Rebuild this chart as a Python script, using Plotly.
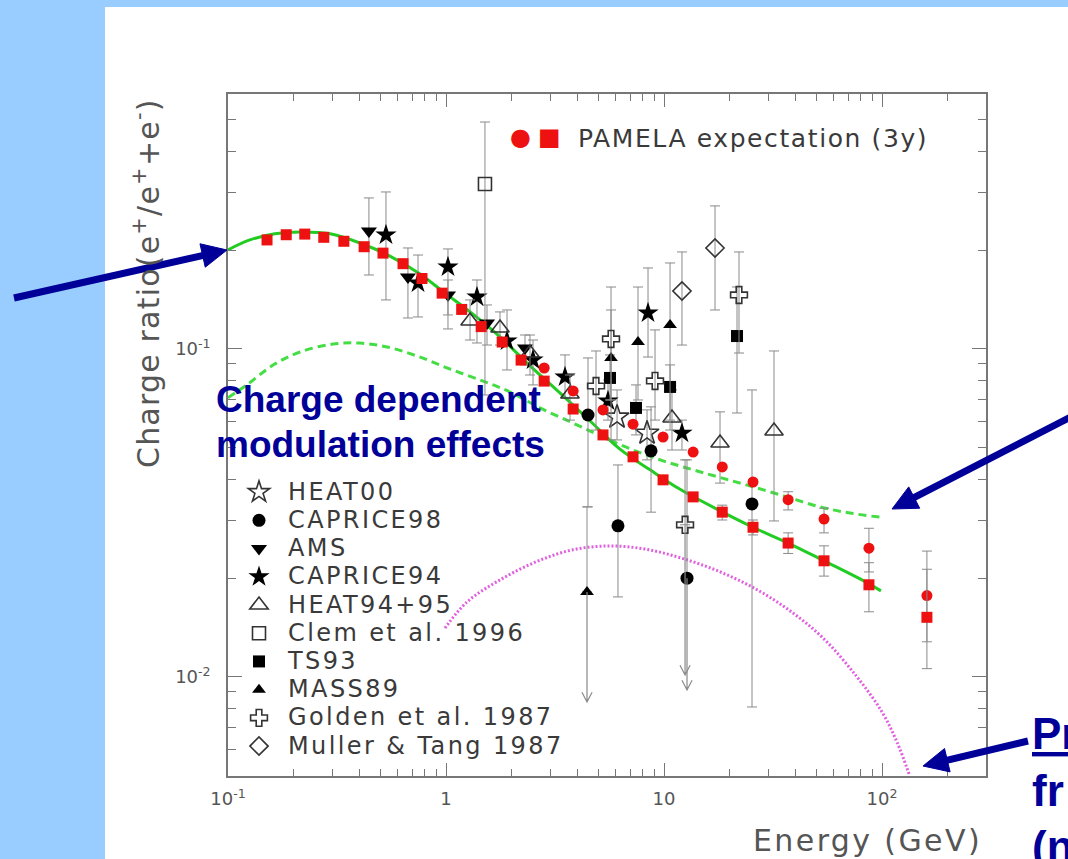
import math
import plotly.graph_objects as go

# ---------------- data ----------------
# PAMELA expectation (3y): squares = standard, circles = charge-dependent modulation
pam_E = [0.151, 0.185, 0.225, 0.275, 0.340, 0.421, 0.514, 0.635, 0.776, 0.96, 1.18, 1.45, 1.81,
         2.21, 2.82, 3.83, 5.25, 7.21, 9.9, 13.6, 18.5, 25.6, 37.1, 54.2, 87.1, 160.7]
pam_sq = [0.215, 0.223, 0.224, 0.219, 0.213, 0.205, 0.196, 0.182, 0.164, 0.148, 0.132, 0.117, 0.105,
          0.0925, 0.0798, 0.0656, 0.0547, 0.0469, 0.0399, 0.0354, 0.0318, 0.0286, 0.0256, 0.0226, 0.0191, 0.0152]
pam_sq_lo = [None] * 20 + [0.0301, 0.0271, 0.0238, 0.0203, 0.0158, 0.0106]
pam_sq_hi = [None] * 20 + [0.0334, 0.0301, 0.0275, 0.0251, 0.0223, 0.0213]

pam_ci_E = [2.82, 3.83, 5.25, 7.21, 9.9, 13.6, 18.5, 25.6, 37.1, 54.2, 87.1, 160.7]
pam_ci = [0.0875, 0.0745, 0.0652, 0.0590, 0.0539, 0.0485, 0.0437, 0.0393, 0.0347, 0.0303, 0.0247, 0.0177]
pam_ci_lo = [None] * 8 + [0.0323, 0.0275, 0.0209, 0.0128]
pam_ci_hi = [None] * 8 + [0.0367, 0.0327, 0.0284, 0.0242]

# model curves
fit_E = [0.1, 0.126, 0.164, 0.214, 0.294, 0.403, 0.553, 0.760, 0.989, 1.29, 1.77, 2.43, 3.33, 4.58,
         6.28, 8.63, 11.8, 18.1, 25.6, 37.1, 54.2, 79.3, 98.9]
fit_R = [0.2005, 0.215, 0.2244, 0.2275, 0.2244, 0.2104, 0.192, 0.1694, 0.148, 0.1297, 0.1088, 0.0888,
         0.0735, 0.0603, 0.0495, 0.0428, 0.0374, 0.0321, 0.0286, 0.0256, 0.0226, 0.0199, 0.0183]

mod_E = [0.1, 0.122, 0.161, 0.214, 0.303, 0.403, 0.536, 0.736, 1.04, 1.48, 1.97, 2.70, 3.83, 5.25,
         7.21, 9.9, 13.6, 18.5, 25.6, 36.6, 52.0, 71.3, 97.9]
mod_R = [0.0710, 0.0777, 0.0893, 0.0979, 0.1035, 0.1042, 0.1014, 0.0952, 0.0869, 0.0798, 0.0739, 0.0661,
         0.0594, 0.0539, 0.0492, 0.0456, 0.0428, 0.0404, 0.0380, 0.0354, 0.0330, 0.0316, 0.0307]

dm_E = [0.989, 1.25, 1.77, 2.59, 3.78, 5.59, 8.18, 11.97, 17.7, 25.9, 37.4, 53.6, 76.8, 100, 117, 134]
dm_R = [0.01409, 0.01694, 0.01977, 0.02244, 0.02439, 0.02508, 0.02455, 0.02305, 0.02104, 0.01866,
        0.01600, 0.01315, 0.0100, 0.00782, 0.00634, 0.00499]

# experiments: energy, ratio, lower bound, upper bound, upper-limit flag
heat00_E = [6.09, 8.36]
heat00_R = [0.0620, 0.0554]
heat00_lo = [0.0528, 0.0459]
heat00_hi = [0.0750, 0.0652]

caprice98_E = [4.48, 6.15, 8.72, 12.75, 25.33]
caprice98_R = [0.0629, 0.0289, 0.0489, 0.0200, 0.0337]
caprice98_lo = [0.0330, 0.01754, 0.0318, 0.00913, 0.0081]
caprice98_hi = [0.0939, 0.0443, 0.0666, 0.0459, 0.0750]
caprice98_ul = [False, False, False, True, False]

ams_E = [0.443, 0.669, 1.021, 1.542, 2.303]
ams_R = [0.2290, 0.1658, 0.1461, 0.1200, 0.1007]
ams_lo = [0.1681, 0.1243, 0.1270, 0.1028, 0.0894]
ams_hi = [0.2887, 0.2032, 0.1623, 0.1362, 0.1103]

caprice94_E = [0.5305, 0.744, 1.021, 1.387, 1.905, 2.507, 3.515, 5.535, 8.446, 12.09]
caprice94_R = [0.2226, 0.1590, 0.1778, 0.1440, 0.1058, 0.0926, 0.0821, 0.0694, 0.1288, 0.0554]
caprice94_lo = [0.1411, 0.1252, 0.1151, 0.1043, 0.0863, 0.0777, 0.0709, 0.0607, 0.0945, 0.0492]
caprice94_hi = [0.3011, 0.1934, 0.2018, 0.1623, 0.1315, 0.1065, 0.0959, 0.0804, 0.1766, 0.0607]

heat9495_E = [1.289, 1.769, 2.428, 3.705, 10.88, 18.07, 31.96]
heat9495_R = [0.1217, 0.1159, 0.0972, 0.0729, 0.0616, 0.0517, 0.0562]
heat9495_lo = [0.1065, 0.1028, 0.0833, 0.0607, 0.0492, 0.0390, 0.0299]
heat9495_hi = [0.1411, 0.1297, 0.1103, 0.0833, 0.0750, 0.0643, 0.0986]

clem_E = [1.509]
clem_R = [0.3184]
clem_lo = [0.0724]
clem_hi = [0.492]

ts93_E = [5.654, 7.441, 10.66, 21.62]
ts93_R = [0.0816, 0.0661, 0.0766, 0.1095]
ts93_lo = [0.0699, 0.0547, 0.0607, 0.0638]
ts93_hi = [0.0959, 0.0777, 0.0894, 0.1545]

mass89_E = [4.434, 5.714, 7.599, 10.66]
mass89_R = [0.01816, 0.0939, 0.1050, 0.1184]
mass89_lo = [0.00839, 0.0528, 0.0699, 0.0566]
mass89_hi = [0.0330, 0.1315, 0.1545, 0.1829]
mass89_ul = [True, False, False, False]

golden_E = [4.877, 5.714, 9.094, 12.49, 22.08]
golden_R = [0.0771, 0.1073, 0.0799, 0.0291, 0.1461]
golden_lo = [0.0566, 0.0699, 0.0607, 0.01014, 0.0972]
golden_hi = [0.0986, 0.1545, 0.1143, 0.0459, 0.1976]
golden_ul = [False, False, False, True, False]

muller_E = [12.09, 17.14]
muller_R = [0.1502, 0.2032]
muller_lo = [0.1028, 0.1315]
muller_hi = [0.1976, 0.273]

x_tick_vals = [0.1, 1, 10, 100]
x_tick_text = ["10<sup>-1</sup>", "1", "10", "10<sup>2</sup>"]
x_minor_vals = [0.2, 0.3, 0.4, 0.5, 0.6, 0.7, 0.8, 0.9, 2, 3, 4, 5, 6, 7, 8, 9,
                20, 30, 40, 50, 60, 70, 80, 90, 200]
y_tick_vals = [0.01, 0.1]
y_tick_text = ["10<sup>-2</sup>", "10<sup>-1</sup>"]
y_minor_vals = [0.006, 0.007, 0.008, 0.009, 0.02, 0.03, 0.04, 0.05, 0.06, 0.07, 0.08, 0.09,
                0.2, 0.3, 0.4, 0.5]

# ---------------- styling ----------------
GREY = "#8a8a8a"
AXC = "#777777"
TXT = "#555555"
LEGTXT = "#3a3a3a"
NAVY = "#000099"
RED = "#ee1111"
FONT = "DejaVu Sans"
BOLD = "Liberation Sans"


def err(vals, lo, hi, ul=None):
    plus, minus = [], []
    for i, v in enumerate(vals):
        plus.append(0 if hi[i] is None else hi[i] - v)
        if lo[i] is None or (ul is not None and ul[i]):
            minus.append(0)
        else:
            minus.append(v - lo[i])
    return dict(type="data", symmetric=False, array=plus, arrayminus=minus,
                color=GREY, thickness=1, width=5)


def lab(s):
    return '<span style="font-size:24px;letter-spacing:2.4px">' + s + "</span>"


fig = go.Figure()

# model curves
fig.add_trace(go.Scatter(x=dm_E, y=dm_R, mode="lines", line=dict(color="#e060e0", width=3, dash="2px,2px", shape="spline"),
                         showlegend=False, name="primary"))
fig.add_trace(go.Scatter(x=mod_E, y=mod_R, mode="lines", line=dict(color="#44dd44", width=3, dash="8px,5px", shape="spline"),
                         showlegend=False, name="charge dependent"))
fig.add_trace(go.Scatter(x=fit_E, y=fit_R, mode="lines", line=dict(color="#22cc22", width=3, shape="spline"),
                         showlegend=False, name="secondary"))

# experiments (legend order)
exps = [
    ("HEAT00", heat00_E, heat00_R, heat00_lo, heat00_hi, None, dict(symbol="star-open", size=18, color="#333", line=dict(color="#333", width=1.6))),
    ("CAPRICE98", caprice98_E, caprice98_R, caprice98_lo, caprice98_hi, caprice98_ul, dict(symbol="circle", size=13, color="black")),
    ("AMS", ams_E, ams_R, ams_lo, ams_hi, None, dict(symbol="triangle-down", size=14, color="black")),
    ("CAPRICE94", caprice94_E, caprice94_R, caprice94_lo, caprice94_hi, None, dict(symbol="star", size=16, color="black")),
    ("HEAT94+95", heat9495_E, heat9495_R, heat9495_lo, heat9495_hi, None, dict(symbol="triangle-up-open", size=16, color="#333", line=dict(color="#333", width=1.6))),
    ("Clem et al. 1996", clem_E, clem_R, clem_lo, clem_hi, None, dict(symbol="square-open", size=13, color="#333", line=dict(color="#333", width=1.6))),
    ("TS93", ts93_E, ts93_R, ts93_lo, ts93_hi, None, dict(symbol="square", size=12, color="black")),
    ("MASS89", mass89_E, mass89_R, mass89_lo, mass89_hi, mass89_ul, dict(symbol="triangle-up", size=12, color="black")),
    ("Golden et al. 1987", golden_E, golden_R, golden_lo, golden_hi, golden_ul, dict(symbol="cross-open", size=14, color="#333", line=dict(color="#333", width=1.6))),
    ("Muller & Tang 1987", muller_E, muller_R, muller_lo, muller_hi, None, dict(symbol="diamond-open", size=14, color="#333", line=dict(color="#333", width=1.6))),
]

shapes = []
# slide panel behind the chart
L, R_, T, B = 228, 82, 94, 83
PW, PH = 1068 - L - R_, 859 - T - B


def px(x):
    return (x - L) / PW


def py(y):
    return (859 - B - y) / PH


shapes.append(dict(type="rect", xref="paper", yref="paper", x0=px(105), x1=px(1075), y0=py(7), y1=py(866),
                   fillcolor="white", line=dict(width=0), layer="below"))

for name, E, R, lo, hi, ul, mk in exps:
    fig.add_trace(go.Scatter(x=E, y=R, mode="markers", name=lab(name), marker=mk,
                             error_y=err(R, lo, hi, ul)))
    if ul is not None:
        for i, flag in enumerate(ul):
            if flag:
                # upper limit: line down to the bound, with an open arrow head (shape coords are data values)
                e, r, b = E[i], R[i], lo[i]
                path = (f"M {e},{r} L {e},{b} "
                        f"M {e / 1.055},{b * 1.07} L {e},{b} L {e * 1.055},{b * 1.07}")
                shapes.append(dict(type="path", xref="x", yref="y", path=path,
                                   line=dict(color=GREY, width=1.2), layer="above"))

# PAMELA expectation
fig.add_trace(go.Scatter(x=pam_ci_E, y=pam_ci, mode="markers", name="PAMELA expectation (3y) - charge dependent",
                         marker=dict(symbol="circle", size=11, color=RED), showlegend=False,
                         error_y=err(pam_ci, pam_ci_lo, pam_ci_hi)))
fig.add_trace(go.Scatter(x=pam_E, y=pam_sq, mode="markers", name="PAMELA expectation (3y)",
                         marker=dict(symbol="square", size=11, color=RED), showlegend=False,
                         error_y=err(pam_sq, pam_sq_lo, pam_sq_hi)))

# blue slide arrows drawn as shapes (pixel geometry -> paper coords)
for tipx, tipy, tailx, taily in [(227, 250, 14, 298), (892, 509, 1092, 406), (923, 766, 1028, 741)]:
    dx, dy = tipx - tailx, tipy - taily
    n = math.hypot(dx, dy)
    ux, uy = dx / n, dy / n
    hl, hw = 25, 12
    bx, by = tipx - ux * hl, tipy - uy * hl
    shapes.append(dict(type="line", xref="paper", yref="paper", x0=px(tailx), y0=py(taily),
                       x1=px(bx + ux * 2), y1=py(by + uy * 2), line=dict(color=NAVY, width=7)))
    p1 = (bx - uy * hw, by + ux * hw)
    p2 = (bx + uy * hw, by - ux * hw)
    shapes.append(dict(type="path", xref="paper", yref="paper",
                       path=f"M {px(tipx)},{py(tipy)} L {px(p1[0])},{py(p1[1])} L {px(p2[0])},{py(p2[1])} Z",
                       fillcolor=NAVY, line=dict(color=NAVY, width=1)))

annotations = []
# axis titles
annotations.append(dict(xref="paper", yref="paper", x=px(146), y=py(283), textangle=-90, showarrow=False,
                        text='<span style="letter-spacing:1.2px">Charge ratio(e<sup>+</sup>/e<sup>+</sup>+e<sup>-</sup>)</span>',
                        font=dict(family=FONT, size=30, color=TXT), xanchor="center", yanchor="middle"))
annotations.append(dict(xref="paper", yref="paper", x=px(984), y=py(840), showarrow=False,
                        text='<span style="letter-spacing:2.4px">Energy (GeV)</span>',
                        font=dict(family=FONT, size=30, color=TXT), xanchor="right", yanchor="middle"))

# PAMELA legend key
annotations.append(dict(xref="paper", yref="paper", x=px(520), y=py(137), showarrow=False, text="●",
                        font=dict(family=FONT, size=24, color=RED), xanchor="center", yanchor="middle"))
annotations.append(dict(xref="paper", yref="paper", x=px(549), y=py(137), showarrow=False, text="■",
                        font=dict(family=FONT, size=24, color=RED), xanchor="center", yanchor="middle"))
annotations.append(dict(xref="paper", yref="paper", x=px(576), y=py(138), showarrow=False,
                        text='<span style="letter-spacing:1.6px">PAMELA expectation (3y)</span>',
                        font=dict(family=FONT, size=25, color=LEGTXT), xanchor="left", yanchor="middle"))

# blue slide texts
annotations.append(dict(xref="paper", yref="paper", x=px(214), y=py(399), showarrow=False, text="<b>Charge dependent</b>",
                        font=dict(family=BOLD, size=37, color=NAVY), xanchor="left", yanchor="middle"))
annotations.append(dict(xref="paper", yref="paper", x=px(214), y=py(444), showarrow=False, text="<b>modulation effects</b>",
                        font=dict(family=BOLD, size=37, color=NAVY), xanchor="left", yanchor="middle"))
for txt, yy in [("<b><u>Pr</u></b>", 733), ("<b>fr</b>", 790), ("<b>(n</b>", 847)]:
    annotations.append(dict(xref="paper", yref="paper", x=px(1030), y=py(yy), showarrow=False, text=txt,
                            font=dict(family=BOLD, size=44, color=NAVY), xanchor="left", yanchor="middle"))

fig.update_layout(
    width=1068, height=859,
    margin=dict(l=L, r=R_, t=T, b=B),
    paper_bgcolor="#99ccff", plot_bgcolor="white",
    font=dict(family=FONT, color=TXT),
    hovermode=False,
    shapes=shapes,
    xaxis=dict(type="log", range=[-1, 2.477], showgrid=False, zeroline=False, showline=True,
               linecolor=AXC, linewidth=1.5, mirror="ticks", ticks="inside", ticklen=13, tickwidth=1,
               tickcolor=AXC, tickvals=x_tick_vals, ticktext=x_tick_text, ticklabelstandoff=6,
               tickfont=dict(family=FONT, size=18, color=TXT),
               minor=dict(tickvals=x_minor_vals, ticks="inside", ticklen=7, tickwidth=1, tickcolor=AXC, showgrid=False)),
    yaxis=dict(type="log", range=[-2.302, -0.2226], showgrid=False, zeroline=False, showline=True,
               linecolor=AXC, linewidth=1.5, mirror="ticks", ticks="inside", ticklen=14, tickwidth=1,
               tickcolor=AXC, tickvals=y_tick_vals, ticktext=y_tick_text, ticklabelstandoff=12,
               tickfont=dict(family=FONT, size=18, color=TXT),
               minor=dict(tickvals=y_minor_vals, ticks="inside", ticklen=8, tickwidth=1, tickcolor=AXC, showgrid=False)),
    showlegend=True,
    legend=dict(x=px(230), y=py(473), xanchor="left", yanchor="top", bgcolor="rgba(0,0,0,0)", borderwidth=0,
                font=dict(family=FONT, size=19.4, color=LEGTXT), itemwidth=48, tracegroupgap=0),
    annotations=annotations,
)

fig.write_html("out.html", config={"displayModeBar": False})
